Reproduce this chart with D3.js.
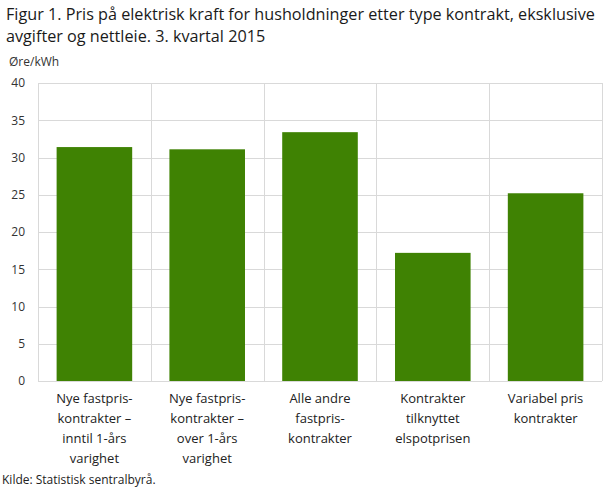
<!DOCTYPE html>
<html>
<head>
<meta charset="utf-8">
<script src="https://cdn.jsdelivr.net/npm/d3@7"></script>
<style>
  body { margin: 0; background: #fff; }
  svg { font-family: "Open Sans", sans-serif; }
</style>
</head>
<body>
<svg id="chart" width="609" height="489"></svg>
<script>
let titleLines = ["Figur 1. Pris på elektrisk kraft for husholdninger etter type kontrakt, eksklusive",
                  "avgifter og nettleie. 3. kvartal 2015"]
let unitLabel = "Øre/kWh"
let source = "Kilde: Statistisk sentralbyrå."

let categories = [
    ["Nye fastpris-", "kontrakter –", "inntil 1-års", "varighet"],
    ["Nye fastpris-", "kontrakter –", "over 1-års", "varighet"],
    ["Alle andre", "fastpris-", "kontrakter"],
    ["Kontrakter", "tilknyttet", "elspotprisen"],
    ["Variabel pris", "kontrakter"]
]
let values = [31.4, 31.1, 33.4, 17.2, 25.2]
let yTicks = [0, 5, 10, 15, 20, 25, 30, 35, 40]

let svg = d3.select('#chart')
let margin = {left: 38, right: 7, top: 83, bottom: 108}
let width = 609, height = 489

let x = d3.scaleBand()
    .domain(d3.range(values.length))
    .range([margin.left, width - margin.right])
    .paddingInner(0.33)
    .paddingOuter(0.165)

let y = d3.scaleLinear()
    .domain([0, 40])
    .range([height - margin.bottom, margin.top])

// title
svg.append('g').selectAll('text')
    .data(titleLines)
    .enter()
    .append('text')
    .attr('x', 6)
    .attr('y', (d, i) => 20 + i * 22)
    .attr('font-size', 16.2)
    .attr('fill', '#1a1a1a')
    .text(d => d)

svg.append('text')
    .attr('x', 9)
    .attr('y', 66)
    .attr('font-size', 12)
    .attr('fill', '#333')
    .text(unitLabel)

// horizontal grid
svg.append('g').selectAll('line')
    .data(yTicks)
    .enter()
    .append('line')
    .attr('x1', margin.left)
    .attr('x2', width - margin.right)
    .attr('y1', d => Math.round(y(d)) + 0.5)
    .attr('y2', d => Math.round(y(d)) + 0.5)
    .attr('stroke', '#d9d9d9')

// vertical grid between categories
let edges = d3.range(values.length + 1).map(i => margin.left + (width - margin.left - margin.right) * i / values.length)
svg.append('g').selectAll('line')
    .data(edges)
    .enter()
    .append('line')
    .attr('x1', d => Math.round(d) + 0.5)
    .attr('x2', d => Math.round(d) + 0.5)
    .attr('y1', y(40))
    .attr('y2', y(0))
    .attr('stroke', '#d9d9d9')

// y axis
let yAxis = d3.axisLeft(y).tickValues(yTicks).tickSize(0).tickPadding(13)
let yg = svg.append('g')
    .attr('transform', `translate(${margin.left},0)`)
    .call(yAxis)
yg.select('.domain').remove()
yg.selectAll('text').attr('font-size', 12).attr('fill', '#333').attr('font-family', '"Open Sans", sans-serif')

// bars
svg.append('g').selectAll('rect')
    .data(values)
    .enter()
    .append('rect')
    .attr('x', (d, i) => x(i))
    .attr('width', x.bandwidth())
    .attr('y', d => y(d))
    .attr('height', d => y(0) - y(d))
    .attr('fill', '#3f8203')

// category labels
let labels = svg.append('g').selectAll('text')
    .data(categories)
    .enter()
    .append('text')
    .attr('text-anchor', 'middle')
    .attr('font-size', 13)
    .attr('fill', '#222')
labels.selectAll('tspan')
    .data((d, i) => d.map(t => ({t: t, i: i})))
    .enter()
    .append('tspan')
    .attr('x', d => x(d.i) + x.bandwidth() / 2)
    .attr('y', (d, j) => y(0) + 22 + j * 20)
    .text(d => d.t)

svg.append('text')
    .attr('x', 2)
    .attr('y', 484)
    .attr('font-size', 12)
    .attr('fill', '#222')
    .text(source)
</script>
</body>
</html>
